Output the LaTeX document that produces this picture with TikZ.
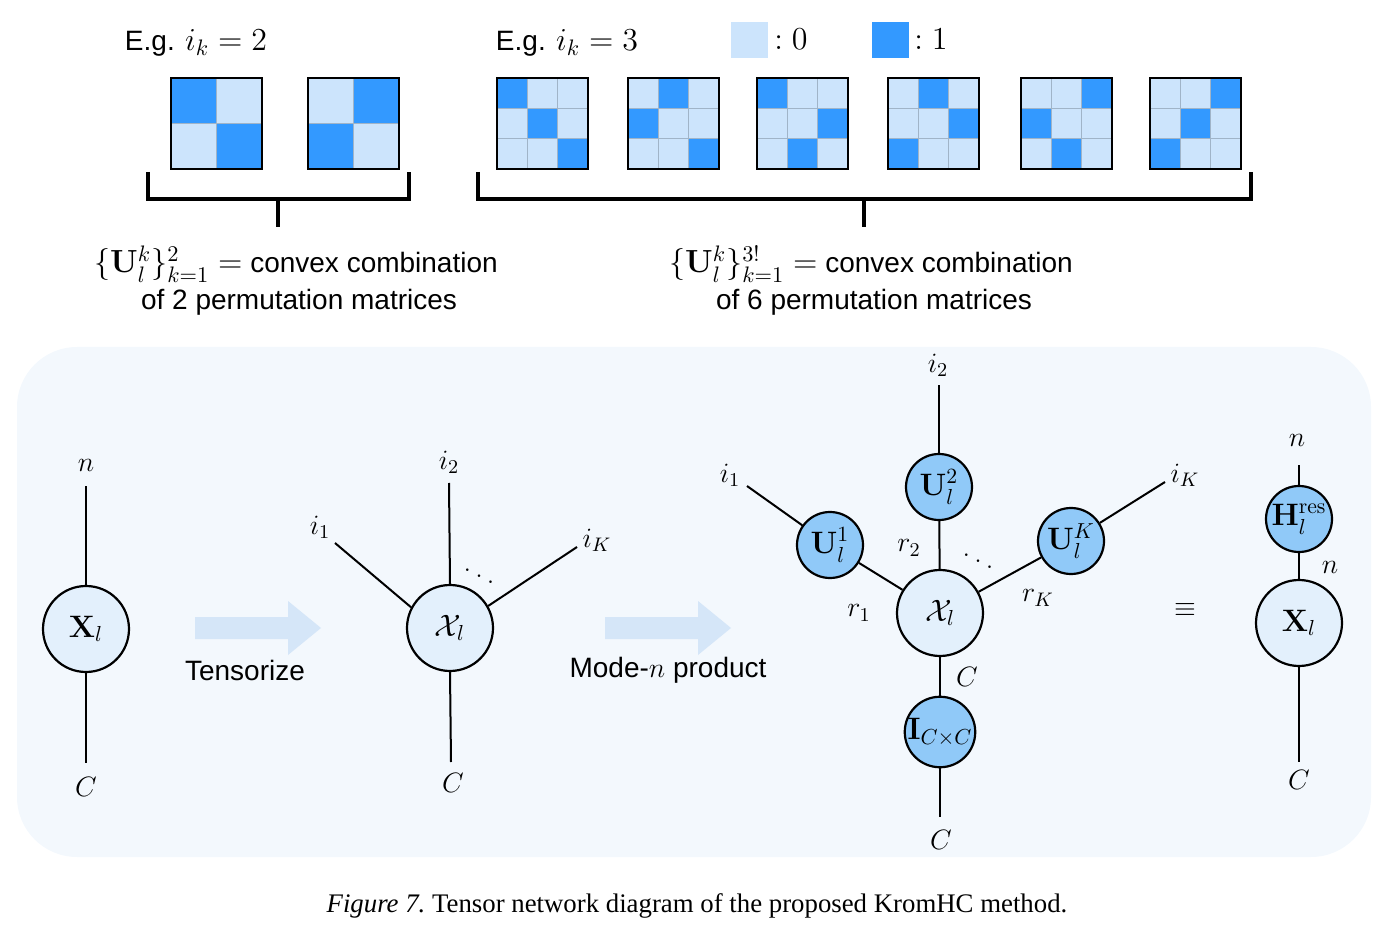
\RequirePackage{fix-cm}
\documentclass[tikz,border=0pt]{standalone}
\usepackage[no-math]{fontspec}
\usepackage{amsmath,amssymb}
\newfontfamily\sansf{Liberation Sans}
\newfontfamily\sanssc[Scale=0.875]{Liberation Sans}
\newfontfamily\capf{Liberation Serif}
\definecolor{matlight}{RGB}{204,228,252}
\definecolor{matdark}{RGB}{51,153,255}
\definecolor{nodelight}{RGB}{227,240,252}
\definecolor{nodedark}{RGB}{144,201,248}
\definecolor{panel}{RGB}{243,248,253}
\definecolor{arrowcol}{RGB}{213,230,248}
\definecolor{gridc}{RGB}{160,180,200}
\newcommand{\permmat}[4]{%
  \begin{scope}[shift={(#1,#2)}]
    \fill[matlight] (0,0) rectangle (91,91);
    \foreach \c [count=\r] in {#4} {
      \fill[matdark] ({(\c-1)*91/#3},{(\r-1)*91/#3}) rectangle ++({91/#3},{91/#3});
    }
    \pgfmathtruncatemacro\nm{#3-1}
    \foreach \k in {1,...,\nm} {
      \draw[gridc, line width=0.4pt] ({\k*91/#3},0) -- ++(0,91);
      \draw[gridc, line width=0.4pt] (0,{\k*91/#3}) -- ++(91,0);
    }
    \draw[line width=0.7pt] (0,0) rectangle (91,91);
  \end{scope}}
\begin{document}
\begin{tikzpicture}[x=0.5pt,y=-0.5pt,
  every node/.style={font=\sansf\fontsize{14}{17}\selectfont},
  lbl/.style={inner sep=0pt},
  toptext/.style={inner sep=0pt, font=\sanssc\fontsize{16}{19}\selectfont},
  bignode/.style={circle, draw, line width=1.1pt, fill=nodelight, minimum size=43pt, inner sep=0pt, font=\fontsize{15.5}{18}\selectfont},
  smallnode/.style={circle, draw, line width=1.1pt, fill=nodedark, minimum size=33pt, inner sep=0pt, font=\fontsize{15.5}{18}\selectfont},
  edge/.style={line width=1pt},
  bracket/.style={line width=2.2pt, line join=miter},
  blockarrow/.style={fill=arrowcol}]
\useasboundingbox (0,0) rectangle (1387,935);

% ---------- top part ----------
\node[toptext, anchor=base] (eg2) at (196,51) {E.g. $i_k = 2$};
\node[toptext, anchor=base] (eg3) at (567,51) {E.g. $i_k = 3$};
\fill[matlight] (731,22) rectangle (768,58);
\node[toptext, anchor=base west] (leg0) at (774,50) {$:0$};
\fill[matdark] (872,22) rectangle (909,58);
\node[toptext, anchor=base west] (leg1) at (914,50) {$:1$};

\permmat{171}{78}{2}{1,2}
\permmat{308}{78}{2}{2,1}
\permmat{497}{78}{3}{1,2,3}
\permmat{628}{78}{3}{2,1,3}
\permmat{757}{78}{3}{1,3,2}
\permmat{888}{78}{3}{2,3,1}
\permmat{1021}{78}{3}{3,1,2}
\permmat{1150}{78}{3}{3,2,1}

\draw[bracket] (148,172) -- (148,199) -- (409,199) -- (409,172);
\draw[bracket] (278,199) -- (278,227);
\draw[bracket] (478,172) -- (478,199) -- (1251,199) -- (1251,172);
\draw[bracket] (864,199) -- (864,227);

\node[toptext, anchor=base] (cc1) at (296,273) {$\{\mathbf{U}_l^k\}_{k=1}^{2} =$ convex combination};
\node[toptext, anchor=base] (pm1) at (299,310) {of 2 permutation matrices};
\node[toptext, anchor=base] (cc2) at (871,273) {$\{\mathbf{U}_l^k\}_{k=1}^{3!} =$ convex combination};
\node[toptext, anchor=base] (pm2) at (874,310) {of 6 permutation matrices};

% ---------- panel ----------
\fill[panel, rounded corners=30pt] (17,347) rectangle (1371,857);

% left matrix node
\node[bignode] (X1) at (86,629) {$\mathbf{X}_l$};
\coordinate (X1t) at (86,486);
\coordinate (X1b) at (86,763);
\draw[edge] (X1) -- (X1t);
\draw[edge] (X1) -- (X1b);
\node[lbl] (n1) at (86,465) {$n$};
\node[lbl] (C1) at (86,787) {$C$};

% arrow 1
\fill[blockarrow] (195,617) -- (288,617) -- (288,601) -- (321,628) -- (288,655) -- (288,639) -- (195,639) -- cycle;
\node[lbl] (tens) at (245,670) {Tensorize};

% tensor node
\node[bignode] (T) at (450,628) {$\mathcal{X}_l$};
\coordinate (Ti1) at (335,543);
\coordinate (Ti2) at (449,483);
\coordinate (TiK) at (577,547);
\coordinate (TC) at (451,762);
\draw[edge] (T.152) -- (Ti1);
\draw[edge] (T.north) -- (Ti2);
\draw[edge] (T.30) -- (TiK);
\draw[edge] (T.south) -- (TC);
\node[lbl] (li1) at (320,527) {$i_1$};
\node[lbl] (li2) at (449,462) {$i_2$};
\node[lbl] (liK) at (597,540) {$i_K$};
\node[lbl] (lC2) at (453,783) {$C$};
\node[lbl, font=\fontsize{16}{19}\selectfont] (dots1) at (479,570) {$\ddots$};

% arrow 2
\fill[blockarrow] (605,617) -- (698,617) -- (698,601) -- (731,628) -- (698,655) -- (698,639) -- (605,639) -- cycle;
\node[lbl] (mode) at (668,670) {Mode-$n$ product};

% middle cluster
\node[bignode] (X) at (940,613) {$\mathcal{X}_l$};
\node[smallnode] (U1) at (830,545) {$\mathbf{U}_l^1$};
\node[smallnode] (U2) at (939,487) {$\mathbf{U}_l^2$};
\node[smallnode] (UK) at (1071,541) {$\mathbf{U}_l^K$};
\node[smallnode] (I) at (940,732) {$\mathbf{I}_{C\times C}$};
\coordinate (e1) at (747,486);
\coordinate (e2) at (939,385);
\coordinate (eK) at (1165,482);
\coordinate (eC) at (940,817);
\draw[edge] (X) -- (U1);
\draw[edge] (X) -- (U2);
\draw[edge] (X) -- (UK);
\draw[edge] (X) -- (I);
\draw[edge] (U1) -- (e1);
\draw[edge] (U2) -- (e2);
\draw[edge] (UK) -- (eK);
\draw[edge] (I) -- (eC);
\node[lbl] (mi1) at (730,475) {$i_1$};
\node[lbl] (mi2) at (938,365) {$i_2$};
\node[lbl] (miK) at (1185,475) {$i_K$};
\node[lbl] (r1) at (859,613) {$r_1$};
\node[lbl] (r2) at (909,548) {$r_2$};
\node[lbl] (rK) at (1038,598) {$r_K$};
\node[lbl] (mC1) at (967,677) {$C$};
\node[lbl] (mC2) at (941,840) {$C$};
\node[lbl, font=\fontsize{16}{19}\selectfont] (dots2) at (978,555) {$\ddots$};

% equivalence
\node[lbl] (eq) at (1185,610) {$\equiv$};

% right
\node[smallnode] (H) at (1299,519) {$\mathbf{H}_l^{\mathrm{res}}$};
\node[bignode] (X2) at (1299,623) {$\mathbf{X}_l$};
\coordinate (Ht) at (1299,465);
\coordinate (X2b) at (1299,762);
\draw[edge] (H) -- (Ht);
\draw[edge] (H) -- (X2);
\draw[edge] (X2) -- (X2b);
\node[lbl] (rn1) at (1297,440) {$n$};
\node[lbl] (rn2) at (1330,567) {$n$};
\node[lbl] (rC) at (1299,780) {$C$};

% caption
\node[lbl, anchor=base, font=\capf\fontsize{13.4}{16}\selectfont] (cap) at (697,912) {\textit{Figure 7.}\ Tensor network diagram of the proposed KromHC method.};
\end{tikzpicture}
\end{document}
